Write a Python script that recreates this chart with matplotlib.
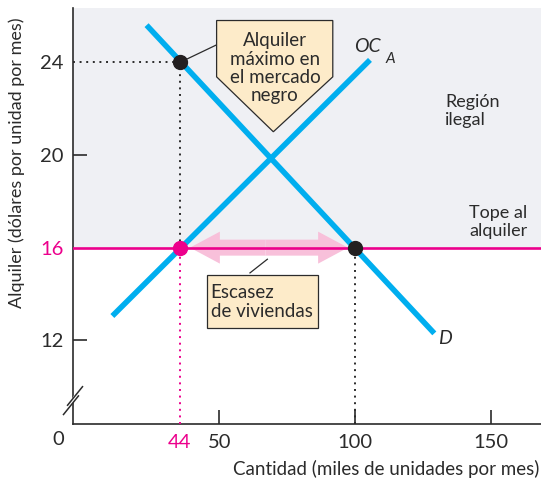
import matplotlib
matplotlib.use('Agg')
import matplotlib.pyplot as plt
from matplotlib.patches import Polygon, Rectangle

plt.rcParams['font.family'] = ['Lato', 'DejaVu Sans']

# values (quantity axis is drawn as in the original figure)
rent_ticks = [12, 16, 20, 24]
rent_labels = ['12', '16', '20', '24']
qty_ticks = [35.5, 50, 100, 150]
qty_labels = ['44', '50', '100', '150']

rent_ceiling = 16
black_market_rent = 24
q_supplied = 35.5     # labelled 44 on the axis
q_demanded = 100

demand_q = [23.2, 129.2]
demand_p = [25.6, 12.3]
supply_q = [10.6, 105.5]
supply_p = [13.05, 24.1]

BLUE = '#00aeef'
MAGENTA = '#ec008c'
DARK = '#2b2b2b'
SHADE = '#eff0f4'
PEACH = '#fdebc9'
PINK = '#f8c0da'

fig = plt.figure(figsize=(5.41, 4.84), dpi=100)
ax = fig.add_axes([73 / 541, 60 / 484, 468 / 541, 416 / 484])
ax.set_xlim(-3.9, 168.5)
ax.set_ylim(8.39, 26.34)

# illegal region above the ceiling
ax.axhspan(rent_ceiling, 26.34, color=SHADE, zorder=0)

# shortage arrow
ax.arrow(67, rent_ceiling, 97.4 - 67, 0, width=0.69, head_width=1.38, head_length=11,
         length_includes_head=True, color=PINK, lw=0, zorder=2)
ax.arrow(67, rent_ceiling, 39.2 - 67, 0, width=0.69, head_width=1.38, head_length=11,
         length_includes_head=True, color=PINK, lw=0, zorder=2)

# ceiling line
ax.axhline(rent_ceiling, color=MAGENTA, lw=1.9, zorder=3)

# supply and demand
ax.plot(supply_q, supply_p, color=BLUE, lw=4, solid_capstyle='butt', zorder=4)
ax.plot(demand_q, demand_p, color=BLUE, lw=4, solid_capstyle='butt', zorder=4)

# dotted guides
dots = (0, (1, 2.4))
ax.plot([-3.9, q_supplied], [black_market_rent] * 2, color=DARK, lw=1.4, ls=dots, zorder=3)
ax.plot([q_supplied] * 2, [rent_ceiling, black_market_rent], color=DARK, lw=1.4, ls=dots, zorder=3)
ax.plot([q_supplied] * 2, [8.39, rent_ceiling], color=MAGENTA, lw=1.4, ls=dots, zorder=3)
ax.plot([q_demanded] * 2, [8.39, rent_ceiling], color=DARK, lw=1.4, ls=dots, zorder=3)

# points
ax.plot([q_supplied], [black_market_rent], 'o', color='#231f20', ms=10, zorder=6)
ax.plot([q_demanded], [rent_ceiling], 'o', color='#231f20', ms=10, zorder=6)
ax.plot([q_supplied], [rent_ceiling], 'o', color=MAGENTA, ms=10, zorder=6)

# black market callout
ax.plot([37.4, 49.0], [24.1, 24.75], color=DARK, lw=0.9, zorder=5)
ax.add_patch(Polygon([(49.0, 25.8), (91.8, 25.8), (91.8, 23.37), (69.9, 21.0), (49.0, 23.37)],
                     closed=True, facecolor=PEACH, edgecolor=DARK, lw=0.9, zorder=5))
ax.text(70.5, 23.74, 'Alquiler\nmáximo en\nel mercado\nnegro', ha='center', va='center',
        fontsize=13.5, color=DARK, linespacing=1.1, zorder=6)

# shortage callout
ax.plot([61.3, 67.7], [14.91, 15.5], color=DARK, lw=0.9, zorder=5)
ax.add_patch(Rectangle((45.4, 12.52), 86.2 - 45.4, 14.83 - 12.52, facecolor=PEACH,
                       edgecolor=DARK, lw=0.9, zorder=5))
ax.text(46.8, 13.65, 'Escasez\nde viviendas', ha='left', va='center', fontsize=13.5,
        color=DARK, linespacing=1.1, zorder=6)

# curve labels
ax.text(104.4, 24.67, 'OC', ha='center', va='center', fontsize=14, style='italic', color=DARK)
ax.text(112.9, 24.14, 'A', ha='center', va='center', fontsize=11, style='italic', color=DARK)
ax.text(133.1, 12.1, 'D', ha='center', va='center', fontsize=14, style='italic', color=DARK)
ax.text(133.2, 21.9, 'Región\nilegal', ha='left', va='center', fontsize=13, color=DARK,
        linespacing=1.1)
ax.text(142.0, 17.1, 'Tope al\nalquiler', ha='left', va='center', fontsize=13, color=DARK,
        linespacing=1.1)

# axes
for s in ['top', 'right']:
    ax.spines[s].set_visible(False)
for s in ['left', 'bottom']:
    ax.spines[s].set_color(DARK)
    ax.spines[s].set_linewidth(1.2)

ax.set_xticks(qty_ticks)
ax.set_xticklabels(qty_labels)
ax.set_yticks(rent_ticks)
ax.set_yticklabels(rent_labels)
ax.tick_params(axis='both', direction='in', length=10, width=1.2, color=DARK,
               labelsize=14.5, labelcolor=DARK)
ax.tick_params(axis='x', pad=7)
ax.tick_params(axis='y', pad=7)
ax.xaxis.get_major_ticks()[0].tick1line.set_visible(False)
ax.get_xticklabels()[0].set_color(MAGENTA)
ax.yaxis.get_major_ticks()[1].tick1line.set_visible(False)
ax.yaxis.get_major_ticks()[3].tick1line.set_visible(False)
ax.get_yticklabels()[1].set_color(MAGENTA)

ax.text(-9.4, 7.74, '0', ha='center', va='center', fontsize=14.5, color=DARK, clip_on=False)

# axis break on the rent axis
ax.add_patch(Polygon([(-6.3, 8.85), (-1.3, 9.8), (-1.3, 10.05), (-6.3, 9.1)], closed=True,
                     facecolor='white', edgecolor='none', clip_on=False, zorder=7))
ax.plot([-7.4, -1.9], [8.8, 9.6], color=DARK, lw=1.1, clip_on=False, zorder=8)
ax.plot([-5.9, -0.4], [9.2, 10.0], color=DARK, lw=1.1, clip_on=False, zorder=8)

ax.set_ylabel('Alquiler (dólares por unidad por mes)', fontsize=13, color=DARK,
              va='center')
ax.yaxis.set_label_coords(-56 / 468, (424 - 163) / 416)
ax.set_xlabel('Cantidad (miles de unidades por mes)', fontsize=13.5, color=DARK,
              ha='right', va='center')
ax.xaxis.set_label_coords(466 / 468, -(469 - 424) / 416)

fig.savefig('out.png', dpi=100)
